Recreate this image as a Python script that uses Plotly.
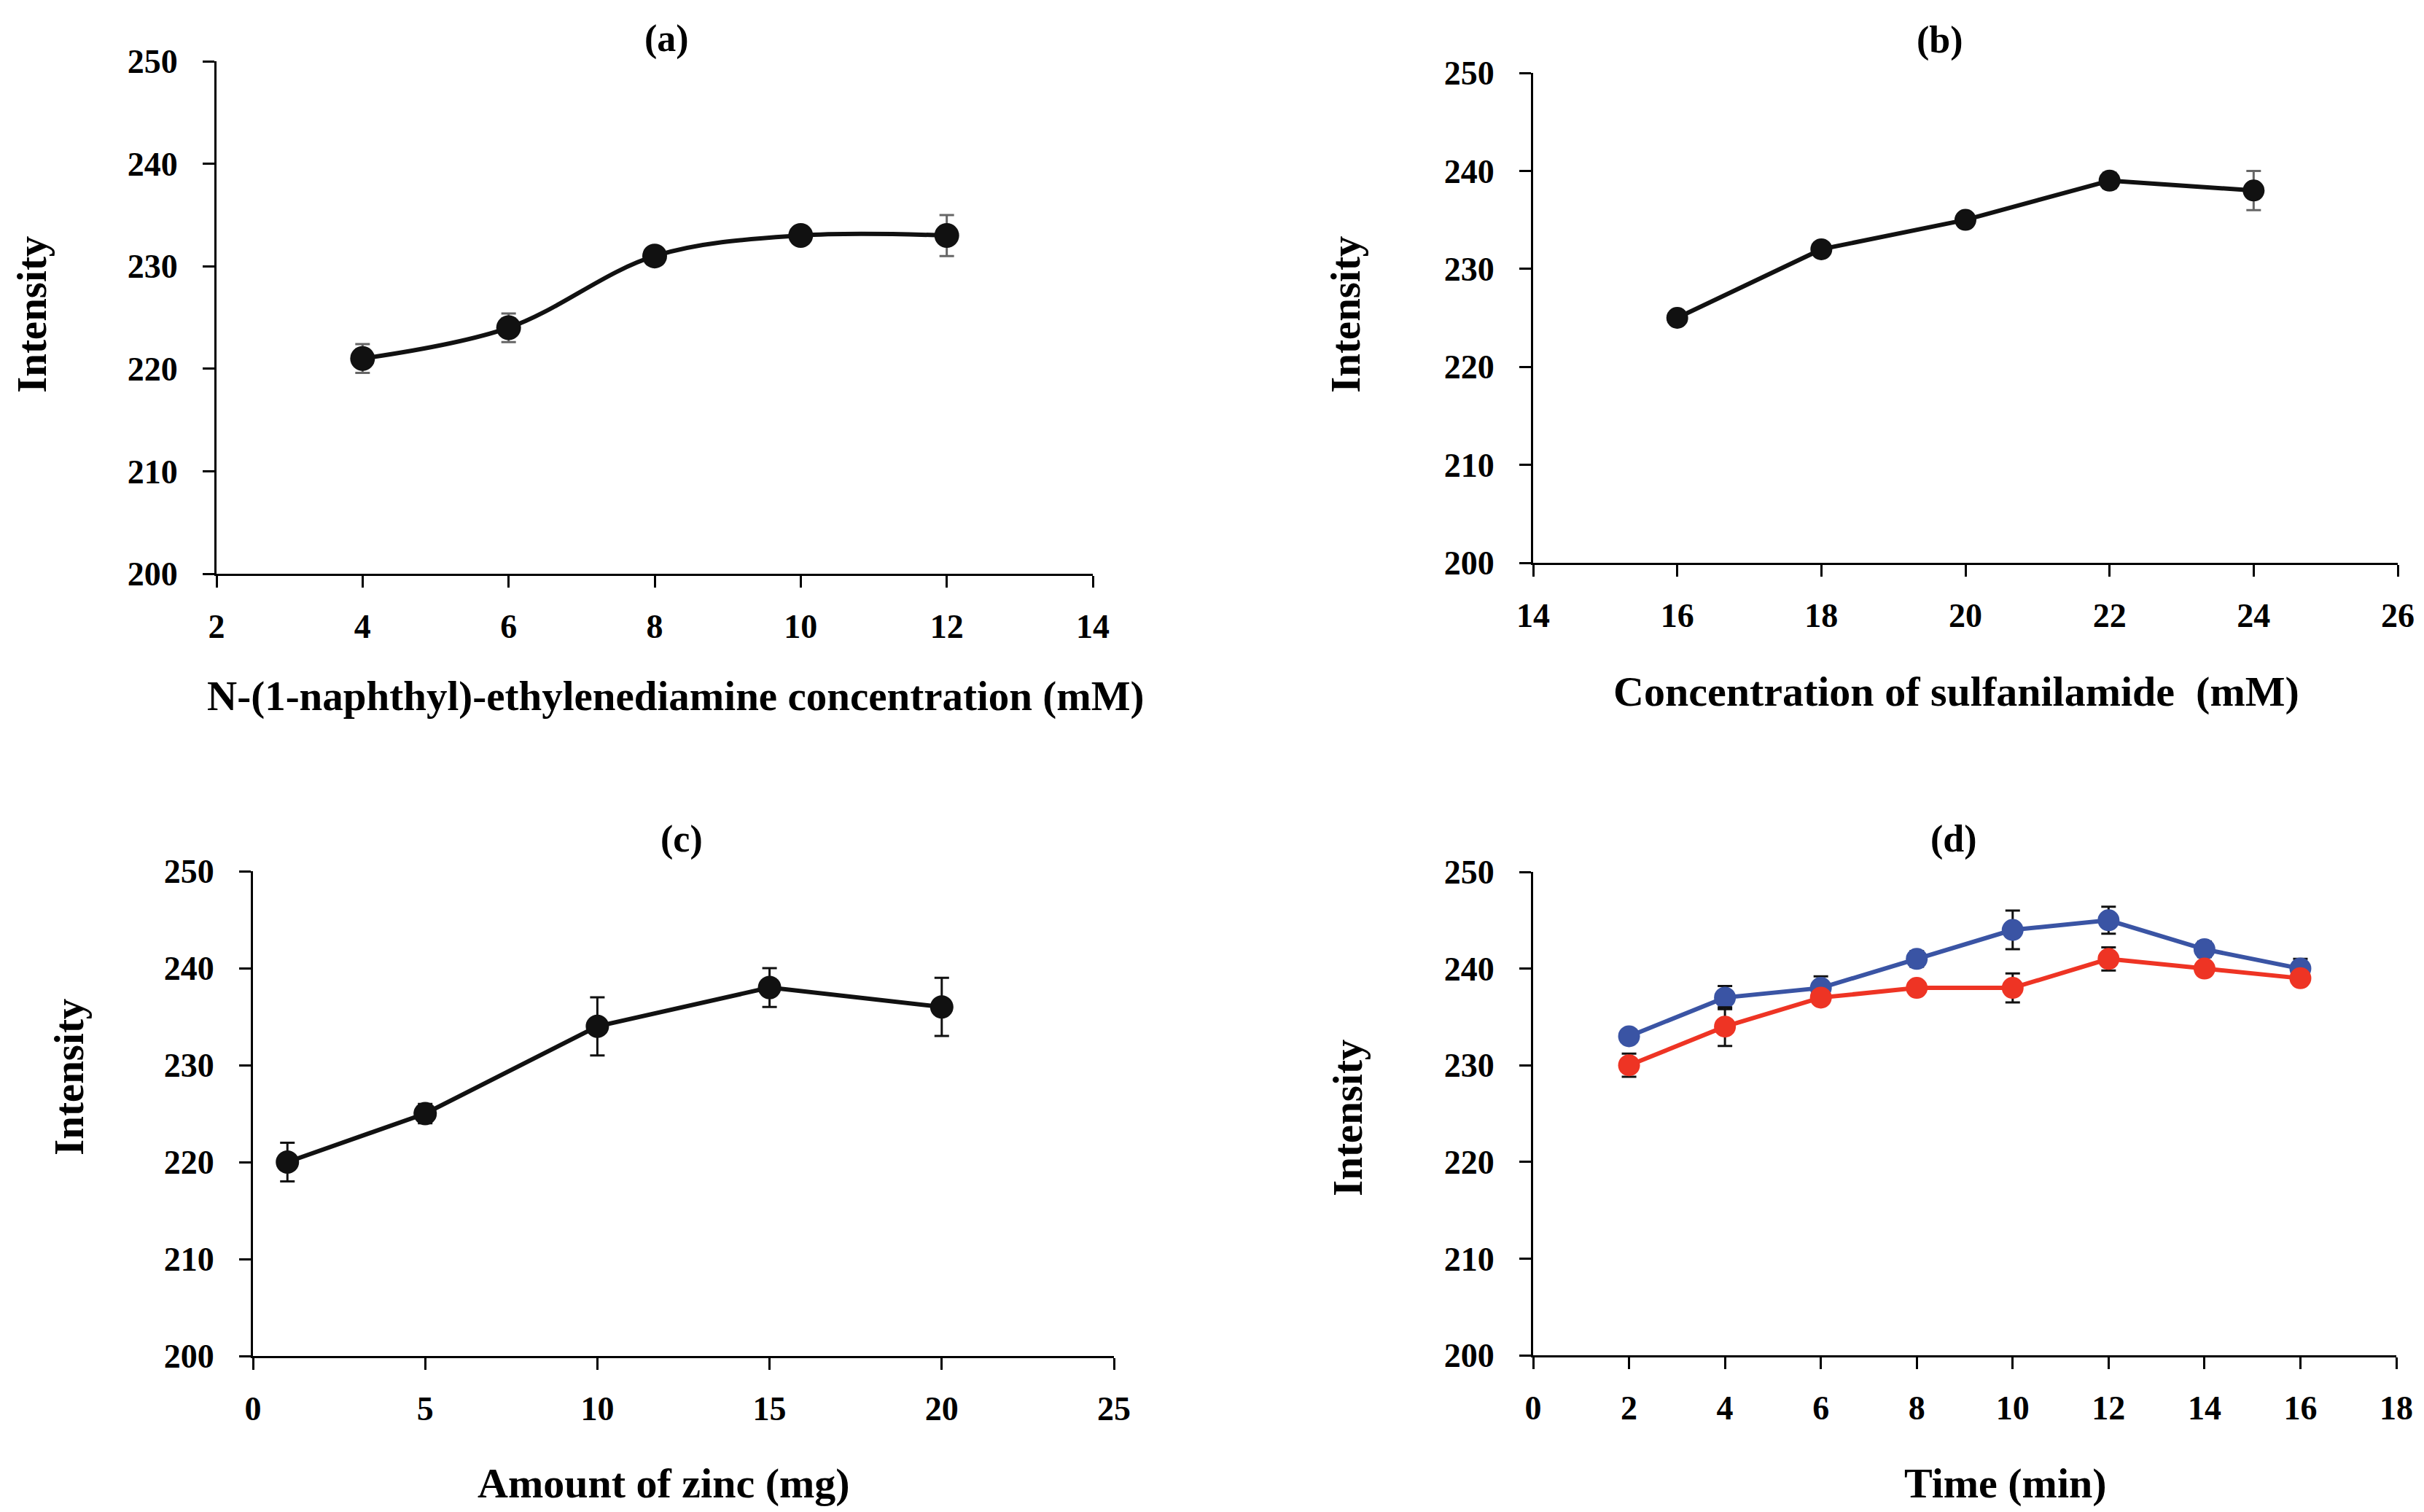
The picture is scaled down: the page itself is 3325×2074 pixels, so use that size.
import plotly.graph_objects as go

W, H = 3325, 2074

# ---- data ----
a_x = [4, 6, 8, 10, 12]
a_y = [221, 224, 231, 233, 233]
a_err = [1.4, 1.4, 0.4, 0.5, 2.0]

b_x = [16, 18, 20, 22, 24]
b_y = [225, 232, 235, 239, 238]
b_err = [0.3, 0.3, 0.7, 0.8, 2.0]

c_x = [1, 5, 10, 15, 20]
c_y = [220, 225, 234, 238, 236]
c_err = [2.0, 1.0, 3.0, 2.0, 3.0]

d_x = [2, 4, 6, 8, 10, 12, 14, 16]
d_blue = [233, 237, 238, 241, 244, 245, 242, 240]
d_blue_err = [0.5, 1.2, 1.2, 0.8, 2.0, 1.4, 0.8, 1.0]
d_red = [230, 234, 237, 238, 238, 241, 240, 239]
d_red_err = [1.2, 2.0, 0.5, 0.5, 1.5, 1.2, 0.5, 0.5]

y_ticks = [200, 210, 220, 230, 240, 250]

FONT = "Liberation Serif"

fig = go.Figure()

def add_series(x, y, err, xa, ya, color, ecolor, shape="linear", msize=32):
    fig.add_trace(go.Scatter(
        x=x, y=y, mode="lines+markers",
        line=dict(color=color, width=6, shape=shape, smoothing=1.0),
        marker=dict(color=color, size=msize, line=dict(width=0)),
        error_y=dict(type="data", array=err, visible=True, color=ecolor,
                     thickness=3, width=10),
        xaxis=xa, yaxis=ya, showlegend=False, cliponaxis=False))

add_series(a_x, a_y, a_err, "x", "y", "#111111", "#666666", shape="spline", msize=34)
add_series(b_x, b_y, b_err, "x2", "y2", "#111111", "#666666", msize=30)
add_series(c_x, c_y, c_err, "x3", "y3", "#111111", "#111111", msize=32)
add_series(d_x, d_blue, d_blue_err, "x4", "y4", "#3A54A4", "#111111", msize=30)
add_series(d_x, d_red, d_red_err, "x4", "y4", "#EE3424", "#111111", msize=30)

def px_x(p):
    return p / W

def px_y(p):
    return 1 - p / H

axis_common = dict(showline=True, linecolor="black", linewidth=3, ticks="outside",
                   ticklen=16, tickwidth=3, tickcolor="black", showgrid=False,
                   zeroline=False, automargin=False,
                   tickfont=dict(family=FONT, size=46, color="black", weight="bold"))

panels = [
    # (xaxis, yaxis, x0, x1, ytop, ybot, xrange, dtick)
    ("xaxis", "yaxis", 289, 1491, 76, 779, [2, 14], 2),
    ("xaxis2", "yaxis2", 2095, 3281, 92, 764, [14, 26], 2),
    ("xaxis3", "yaxis3", 339, 1520, 1187, 1852, [0, 25], 5),
    ("xaxis4", "yaxis4", 2095, 3279, 1188, 1851, [0, 18], 2),
]

layout_axes = {}
for i, (xa, ya, x0, x1, yt, yb, xr, dt) in enumerate(panels):
    anchor_x = "y" if i == 0 else "y%d" % (i + 1)
    anchor_y = "x" if i == 0 else "x%d" % (i + 1)
    layout_axes[xa] = dict(axis_common, domain=[px_x(x0), px_x(x1)], range=xr,
                           dtick=dt, tick0=xr[0], anchor=anchor_x,
                           ticklabelstandoff=14)
    layout_axes[ya] = dict(axis_common, domain=[px_y(yb), px_y(yt)], range=[200, 250],
                           tickvals=y_ticks, anchor=anchor_y, ticklabelstandoff=25)

fig.update_layout(**layout_axes)

annots = []

def ann(text, x, y, size=48, angle=0, bold=True):
    annots.append(dict(text=text, x=px_x(x), y=px_y(y), xref="paper", yref="paper",
                       showarrow=False, xanchor="center", yanchor="middle",
                       textangle=angle,
                       font=dict(family=FONT, size=size, color="black",
                                 weight="bold" if bold else "normal")))

# panel labels
ann("(a)", 906, 45, 52)
ann("(b)", 2653, 47, 52)
ann("(c)", 927, 1143, 52)
ann("(d)", 2672, 1143, 52)
# x titles
ann("N-(1-naphthyl)-ethylenediamine concentration (mM)", 919, 947, 57)
ann("Concentration of sulfanilamide  (mM)", 2675, 940, 58)
ann("Amount of zinc (mg)", 903, 2026, 58)
ann("Time (min)", 2743, 2026, 58)
# y titles
ann("Intensity", 36, 424, 57, -90)
ann("Intensity", 1838, 424, 57, -90)
ann("Intensity", 86, 1470, 57, -90)
ann("Intensity", 1840, 1526, 57, -90)

fig.update_layout(width=W, height=H, margin=dict(l=0, r=0, t=0, b=0, pad=0),
                  paper_bgcolor="white", plot_bgcolor="white",
                  annotations=annots, showlegend=False)

fig.write_html("out.html")
